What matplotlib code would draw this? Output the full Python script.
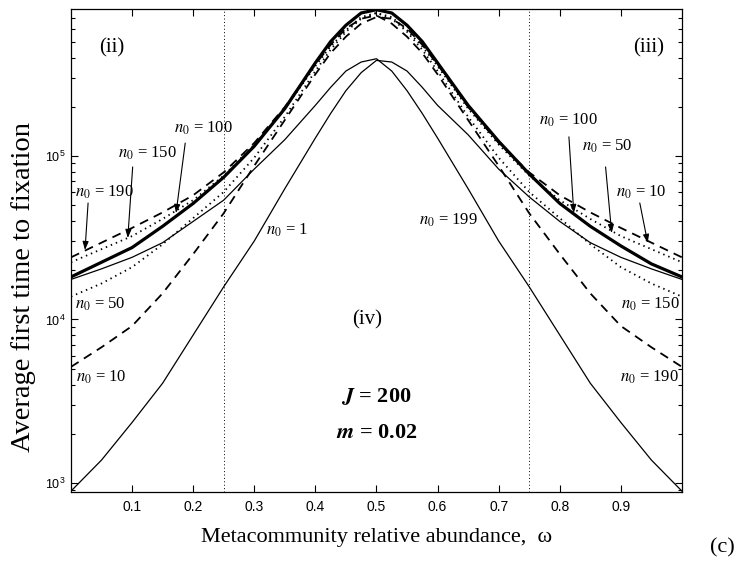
import numpy as np
import matplotlib
matplotlib.use('Agg')
import matplotlib.pyplot as plt
from matplotlib.ticker import FixedLocator, LogLocator, FuncFormatter, NullFormatter

plt.rcParams['font.family'] = 'Liberation Serif'
plt.rcParams['mathtext.fontset'] = 'stix'

# Metacommunity relative abundance (omega)
omega = [0.0, 0.05, 0.1, 0.15, 0.2, 0.25, 0.3, 0.35, 0.4, 0.425, 0.45, 0.475, 0.5,
         0.525, 0.55, 0.575, 0.6, 0.65, 0.7, 0.75, 0.8, 0.85, 0.9, 0.95, 1.0]

# Average first time to fixation, one curve per initial abundance n0
t_n1 = [891, 1380, 2344, 4074, 8035, 15850, 30200, 63100, 128800, 182000, 251000, 323600, 384600,
        375800, 331000, 263000, 204200, 134900, 83200, 56200, 39800, 29500, 24000, 20400, 17580]
t_n199 = [17580, 20400, 24000, 29500, 39800, 53700, 83200, 125900, 204200, 263000, 331000, 375800, 393600,
          331000, 251000, 182000, 128800, 63100, 30200, 15850, 8035, 4074, 2344, 1380, 891]
t_n10 = [5129, 6761, 9120, 14450, 25120, 44670, 87100, 166000, 316200, 426600, 537000, 645700, 707900,
         691800, 602600, 478600, 363100, 199500, 120200, 79430, 57540, 45190, 36310, 29510, 23990]
t_n190 = [23990, 29510, 36310, 45190, 57540, 79430, 120200, 199500, 363100, 478600, 602600, 691800, 724400,
          645700, 537000, 426600, 316200, 166000, 87100, 44670, 25120, 14450, 9120, 6761, 5129]
t_n50 = [13800, 16600, 20890, 28840, 41690, 60260, 97720, 173800, 331100, 446700, 575400, 691800, 749900,
         707900, 588800, 467700, 354800, 195000, 117500, 75860, 53700, 41210, 32360, 26920, 22390]
t_n150 = [22390, 26920, 32360, 41210, 53700, 75860, 117500, 195000, 354800, 467700, 588800, 707900, 749900,
          691800, 575400, 446700, 331100, 173800, 97720, 60260, 41690, 28840, 20890, 16600, 13800]
t_n100 = [18200, 22390, 27540, 37150, 51290, 74130, 114800, 195000, 371500, 501200, 631000, 749900, 785200,
          749900, 631000, 501200, 371500, 204200, 123000, 77620, 51290, 37150, 28180, 21880, 18200]

x_ticks = [0.1, 0.2, 0.3, 0.4, 0.5, 0.6, 0.7, 0.8, 0.9]
y_ticks = [1e3, 1e4, 1e5]

fig = plt.figure(figsize=(7.37, 5.63), dpi=100)
ax = fig.add_axes([0.0963, 0.1261, 0.829, 0.8579])

ax.plot(omega, t_n1, color='k', lw=0.9)
ax.plot(omega, t_n199, color='k', lw=0.9)
ax.plot(omega, t_n10, color='k', lw=1.3, linestyle=(0, (5, 3.5)))
ax.plot(omega, t_n190, color='k', lw=1.3, linestyle=(0, (5, 3.5)))
ax.plot(omega, t_n50, color='k', lw=1.3, linestyle=(0, (0.8, 2.2)))
ax.plot(omega, t_n150, color='k', lw=1.3, linestyle=(0, (0.8, 2.2)))
ax.plot(omega, t_n100, color='k', lw=2.3)

# region boundaries
ax.axvline(0.25, color='k', lw=0.7, linestyle=(0, (1, 2.5)))
ax.axvline(0.75, color='k', lw=0.7, linestyle=(0, (1, 2.5)))

ax.set_yscale('log')
ax.set_xlim(0, 1)
ax.set_ylim(880, 7.93e5)

ax.xaxis.set_major_locator(FixedLocator(x_ticks))
ax.yaxis.set_major_locator(FixedLocator(y_ticks))
ax.yaxis.set_minor_locator(LogLocator(base=10, subs=np.arange(2, 10)))
ax.yaxis.set_minor_formatter(NullFormatter())
ax.yaxis.set_major_formatter(FuncFormatter(lambda v, p: r'$\mathregular{10^{%d}}$' % round(np.log10(v))))
ax.tick_params(which='both', direction='in', top=True, right=True, width=0.8)
ax.tick_params(which='major', length=5)
ax.tick_params(which='minor', length=3)
for lab in ax.get_xticklabels() + ax.get_yticklabels():
    lab.set_fontfamily('Liberation Sans')
ax.tick_params(axis='x', labelsize=10, pad=6)
ax.tick_params(axis='y', labelsize=9, pad=4)
for s in ax.spines.values():
    s.set_linewidth(0.9)

ax.set_xlabel('Metacommunity relative abundance,  ω', fontsize=16, labelpad=10)
ax.set_ylabel('Average first time to fixation', fontsize=20.5)
ax.yaxis.set_label_coords(-0.058, 0.425)

# curve labels
lab_kw = dict(fontsize=12, ha='center', va='center')
ax.text(0.216, 1.48e5, r'$n_0$ = 100', **lab_kw)
ax.text(0.125, 1.04e5, r'$n_0$ = 150', **lab_kw)
ax.text(0.054, 6.03e4, r'$n_0$ = 190', **lab_kw)
ax.text(0.048, 1.23e4, r'$n_0$ = 50', **lab_kw)
ax.text(0.049, 4.45e3, r'$n_0$ = 10', **lab_kw)
ax.text(0.354, 3.52e4, r'$n_0$ = 1', **lab_kw)
ax.text(0.618, 4.06e4, r'$n_0$ = 199', **lab_kw)
ax.text(0.815, 1.66e5, r'$n_0$ = 100', **lab_kw)
ax.text(0.877, 1.14e5, r'$n_0$ = 50', **lab_kw)
ax.text(0.934, 6.03e4, r'$n_0$ = 10', **lab_kw)
ax.text(0.949, 1.23e4, r'$n_0$ = 150', **lab_kw)
ax.text(0.946, 4.45e3, r'$n_0$ = 190', **lab_kw)

# arrows pointing at the curves
arr = dict(arrowstyle='-|>,head_length=0.5,head_width=0.18', color='k', lw=0.8,
           shrinkA=0, shrinkB=0)
ax.annotate('', xy=(0.172, 4.48e4), xytext=(0.187, 1.2e5), arrowprops=arr)
ax.annotate('', xy=(0.093, 3.15e4), xytext=(0.101, 8.57e4), arrowprops=arr)
ax.annotate('', xy=(0.023, 2.66e4), xytext=(0.028, 5.16e4), arrowprops=arr)
ax.annotate('', xy=(0.823, 4.48e4), xytext=(0.815, 1.31e5), arrowprops=arr)
ax.annotate('', xy=(0.885, 3.38e4), xytext=(0.875, 8.57e4), arrowprops=arr)
ax.annotate('', xy=(0.944, 2.94e4), xytext=(0.931, 5.16e4), arrowprops=arr)

ax.text(0.067, 4.57e5, '(ii)', fontsize=15, ha='center', va='center')
ax.text(0.946, 4.57e5, '(iii)', fontsize=15, ha='center', va='center')
ax.text(0.485, 9.9e3, '(iv)', fontsize=15, ha='center', va='center')
ax.text(0.5, 3.36e3, r'$\boldsymbol{J}$ = 200', fontsize=16, fontweight='bold', ha='center', va='center')
ax.text(0.5, 2.02e3, r'$\boldsymbol{m}$ = 0.02', fontsize=16, fontweight='bold', ha='center', va='center')

fig.text(722 / 737, 1 - 548 / 563, '(c)', fontsize=16, ha='center', va='center')

fig.savefig('out.png', dpi=100)
